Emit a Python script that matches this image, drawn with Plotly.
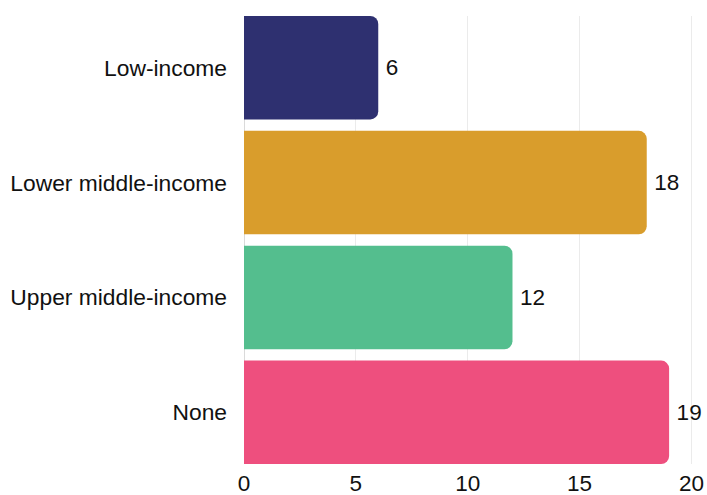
import plotly.graph_objects as go

categories = ["Low-income", "Lower middle-income", "Upper middle-income", "None"]
values = [6, 18, 12, 19]
colors = ["#2E3070", "#D99D2C", "#54BE8E", "#EE4F7E"]

fig = go.Figure(
    go.Bar(
        y=categories,
        x=values,
        orientation="h",
        marker=dict(color=colors, line=dict(width=0)),
        texttemplate="\u2009%{x}",
        textposition="outside",
        textfont=dict(size=22.5, color="#111111"),
        cliponaxis=False,
    )
)

fig.update_layout(
    width=707,
    height=495,
    margin=dict(l=244, r=5, t=16, b=31),
    paper_bgcolor="white",
    plot_bgcolor="white",
    font=dict(family="Liberation Sans, Arial, sans-serif", size=22.8, color="#111111"),
    bargap=0.1,
    barcornerradius=8,
    showlegend=False,
)

fig.update_xaxes(
    range=[0, 20.47],
    tickvals=[0, 5, 10, 15, 20],
    showgrid=True,
    gridcolor="#EBEBEB",
    gridwidth=1,
    zeroline=True,
    zerolinecolor="#DADADA",
    zerolinewidth=1,
    showline=False,
    ticks="",
    ticklabelstandoff=3,
    automargin=False,
    tickfont=dict(size=22.5),
)

fig.update_yaxes(
    categoryorder="array",
    categoryarray=categories,
    range=[3.45, -0.45],
    showgrid=False,
    ticks="",
    ticklabelstandoff=16,
    automargin=False,
    tickfont=dict(size=22.8),
)

fig.write_html("out.html")
